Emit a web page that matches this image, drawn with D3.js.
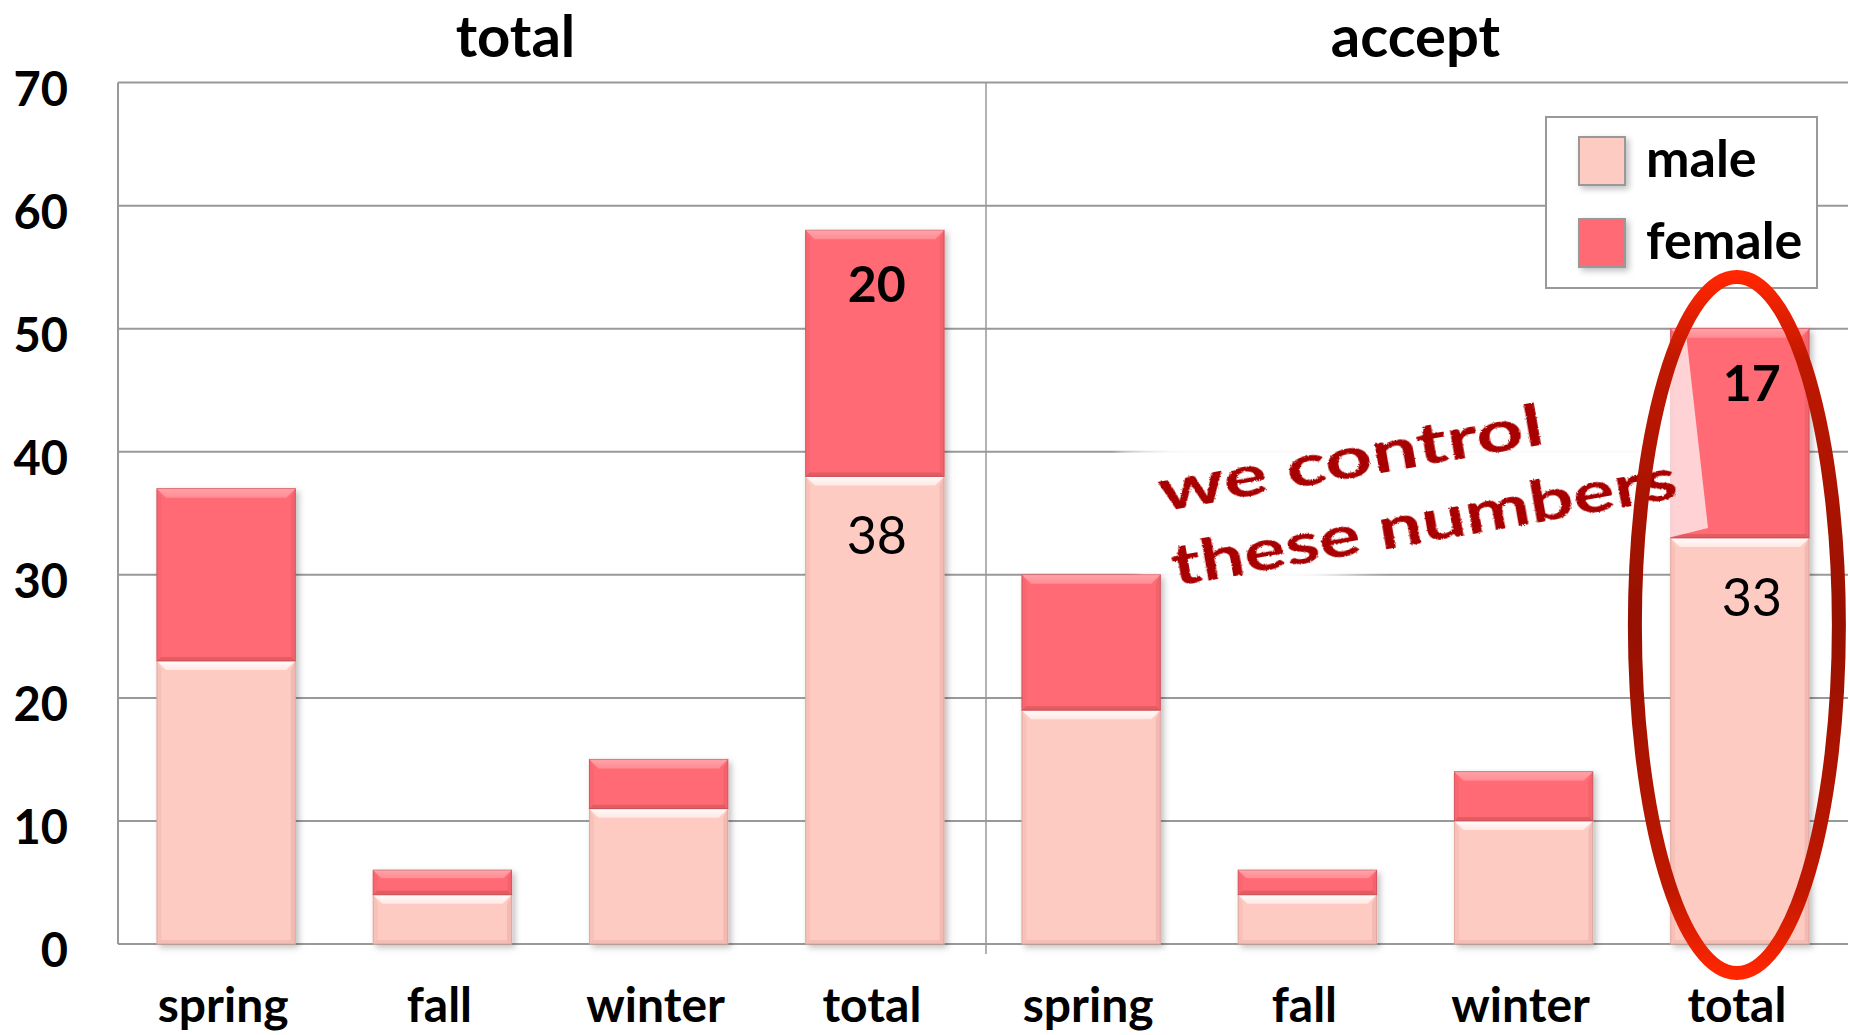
<!DOCTYPE html>
<html>
<head>
<meta charset="utf-8">
<script src="https://d3js.org/d3.v7.min.js"></script>
<style>
  body { margin: 0; background: #fff; }
  text { font-family: Lato, "Open Sans", sans-serif; }
</style>
</head>
<body>
<div id="vis-container"></div>
<script>
//width and height
var w = 1850;
var h = 1035;

// data
var panels = ["total", "accept"];
var seasons = ["spring", "fall", "winter", "total"];
var maleTotal = [23, 4, 11, 38];
var femaleTotal = [14, 2, 4, 20];
var maleAccept = [19, 4, 10, 33];
var femaleAccept = [11, 2, 4, 17];
var yTicks = [0, 10, 20, 30, 40, 50, 60, 70];
var legendLabels = ["male", "female"];
var noteLines = ["we control", "these numbers"];

var colors = { male: "#FECBC2", female: "#FF6B75" };

// build rows
var rows = [];
panels.forEach(function (p, pi) {
    var m = pi == 0 ? maleTotal : maleAccept;
    var f = pi == 0 ? femaleTotal : femaleAccept;
    seasons.forEach(function (s, i) {
        rows.push({ key: p + "-" + s, panel: p, season: s, male: m[i], female: f[i], showLabel: s == "total" });
    });
});

var left = 118, right = 1848;
var xScale = d3.scaleBand()
    .domain(rows.map(function (d) { return d.key; }))
    .range([left, right])
    .paddingInner(0.36)
    .paddingOuter(0.18);

var yScale = d3.scaleLinear()
    .domain([0, 70])
    .range([944, 82.6]);

var svg = d3.select("#vis-container")
    .append("svg")
    .attr("width", w)
    .attr("height", h);

var defs = svg.append("defs");

// bar shadow
var sh = defs.append("filter").attr("id", "shadow")
    .attr("x", "-10%").attr("y", "-10%").attr("width", "130%").attr("height", "130%");
sh.append("feDropShadow").attr("dx", 3).attr("dy", 3).attr("stdDeviation", 3)
    .attr("flood-color", "#000").attr("flood-opacity", 0.25);

var hl = defs.append("linearGradient").attr("id", "hl").attr("x1", 0).attr("y1", 0).attr("x2", 0).attr("y2", 1);
hl.append("stop").attr("offset", "0%").attr("stop-color", "#fff").attr("stop-opacity", 0.95);
hl.append("stop").attr("offset", "100%").attr("stop-color", "#fff").attr("stop-opacity", 0.55);

var ring = defs.append("linearGradient").attr("id", "ring").attr("x1", 0).attr("y1", 0).attr("x2", 0).attr("y2", 1);
ring.append("stop").attr("offset", "0%").attr("stop-color", "#FF2600");
ring.append("stop").attr("offset", "12%").attr("stop-color", "#C01800");
ring.append("stop").attr("offset", "50%").attr("stop-color", "#961000");
ring.append("stop").attr("offset", "88%").attr("stop-color", "#C01800");
ring.append("stop").attr("offset", "100%").attr("stop-color", "#FF2600");

var soft = defs.append("filter").attr("id", "soft");
soft.append("feGaussianBlur").attr("stdDeviation", 4);

var rough = defs.append("filter").attr("id", "rough");
rough.append("feTurbulence").attr("type", "fractalNoise").attr("baseFrequency", 0.9).attr("numOctaves", 2).attr("result", "n");
rough.append("feDisplacementMap").attr("in", "SourceGraphic").attr("in2", "n").attr("scale", 3);

// gridlines
svg.append("g").selectAll("line")
    .data(yTicks)
    .enter().append("line")
    .attr("x1", left).attr("x2", right)
    .attr("y1", function (d) { return yScale(d); })
    .attr("y2", function (d) { return yScale(d); })
    .attr("stroke", "#999").attr("stroke-width", 2);

// y axis line and panel divider
svg.append("line").attr("x1", left).attr("x2", left)
    .attr("y1", yScale(70)).attr("y2", yScale(0))
    .attr("stroke", "#999").attr("stroke-width", 2);
var divX = (xScale(rows[3].key) + xScale.bandwidth() + xScale(rows[4].key)) / 2 + 3;
svg.append("line").attr("x1", divX).attr("x2", divX)
    .attr("y1", yScale(70)).attr("y2", yScale(0) + 10)
    .attr("stroke", "#999").attr("stroke-width", 1.5);

// y tick labels
svg.append("g").selectAll("text")
    .data(yTicks)
    .enter().append("text")
    .attr("x", 68)
    .attr("y", function (d) { return yScale(d) + 23; })
    .attr("text-anchor", "end")
    .attr("font-size", 47).attr("font-weight", "bold")
    .text(function (d) { return d; });

// panel titles
var titleShift = [-35, 0];
panels.forEach(function (p, pi) {
    var k0 = rows[pi * 4].key, k3 = rows[pi * 4 + 3].key;
    var cx = (xScale(k0) + xScale(k3) + xScale.bandwidth()) / 2;
    svg.append("text")
        .attr("x", cx + titleShift[pi]).attr("y", 57)
        .attr("text-anchor", "middle")
        .attr("font-size", 58).attr("font-weight", "bold")
        .text(p);
});

// x labels
svg.append("g").selectAll("text")
    .data(rows)
    .enter().append("text")
    .attr("x", function (d) { return xScale(d.key) + xScale.bandwidth() / 2 - 3; })
    .attr("y", 1022)
    .attr("text-anchor", "middle")
    .attr("font-size", 48).attr("font-weight", "bold")
    .text(function (d) { return d.season; });

// note bubble body (behind bars)
var nx = 1400, ny = 490;
svg.append("rect")
    .attr("transform", "translate(" + nx + "," + ny + ") rotate(-10)")
    .attr("x", -272).attr("y", -85).attr("width", 572).attr("height", 160)
    .attr("fill", "#fff").attr("opacity", 0.95)
    .attr("filter", "url(#soft)");

// bevelled segment
function segment(g, x, y0, y1, bw, fill, kind) {
    var hgt = y0 - y1;
    var b = Math.min(9, hgt / 3);
    var bb = Math.min(4, hgt / 4);
    g.append("rect").attr("x", x).attr("y", y1).attr("width", bw).attr("height", hgt)
        .attr("fill", fill)
        .attr("stroke", kind == "male" ? "#E3ADA6" : "#D9545E").attr("stroke-width", 1);
    // top highlight
    g.append("polygon")
        .attr("points", [[x, y1], [x + bw, y1], [x + bw - b, y1 + b], [x + b, y1 + b]].join(" "))
        .attr("fill", "url(#hl)")
        .attr("opacity", kind == "male" ? 1 : 0.4);
    // bottom shade
    g.append("polygon")
        .attr("points", [[x, y0], [x + bw, y0], [x + bw - bb, y0 - bb], [x + bb, y0 - bb]].join(" "))
        .attr("fill", "#8A2A2A").attr("opacity", kind == "male" ? 0.08 : 0.25);
    // side shades
    g.append("polygon")
        .attr("points", [[x, y1], [x + b * 0.5, y1 + b], [x + b * 0.5, y0 - bb], [x, y0]].join(" "))
        .attr("fill", "#8A2A2A").attr("opacity", 0.06);
    g.append("polygon")
        .attr("points", [[x + bw, y1], [x + bw - b * 0.5, y1 + b], [x + bw - b * 0.5, y0 - bb], [x + bw, y0]].join(" "))
        .attr("fill", "#8A2A2A").attr("opacity", 0.1);
}

// draw bars
var bars = svg.append("g");
rows.forEach(function (d) {
    var g = bars.append("g").attr("filter", "url(#shadow)");
    var x = xScale(d.key), bw = xScale.bandwidth();
    segment(g, x, yScale(0), yScale(d.male), bw, colors.male, "male");
    segment(g, x, yScale(d.male), yScale(d.male + d.female), bw, colors.female, "female");
});

// value labels on the total bars
var lab = svg.append("g");
rows.filter(function (d) { return d.showLabel; }).forEach(function (d, i) {
    var cx = xScale(d.key) + xScale.bandwidth() / 2 + (i == 0 ? 2 : 12);
    lab.append("text")
        .attr("x", cx).attr("y", yScale(d.male + d.female) + 72)
        .attr("text-anchor", "middle")
        .attr("font-size", 50).attr("font-weight", "bold")
        .text(d.female);
    lab.append("text")
        .attr("x", cx).attr("y", yScale(d.male) + 78)
        .attr("text-anchor", "middle")
        .attr("font-size", 52)
        .text(d.male);
});

// note tail over the bar
svg.append("polygon")
    .attr("points", [[1684, 316], [1708, 528], [1636, 546]].join(" "))
    .attr("fill", "#fff").attr("opacity", 0.7);

// note text
var note = svg.append("g")
    .attr("transform", "translate(" + nx + "," + ny + ") rotate(-10)")
    .attr("filter", "url(#rough)");
note.selectAll("text")
    .data(noteLines)
    .enter().append("text")
    .attr("x", -238)
    .attr("y", function (d, i) { return -20 + i * 76; })
    .attr("font-family", "'DejaVu Sans', sans-serif")
    .attr("font-size", 58).attr("font-weight", "bold")
    .attr("fill", "#A80000")
    .attr("textLength", function (d, i) { return i == 0 ? 390 : 512; })
    .attr("lengthAdjust", "spacingAndGlyphs")
    .text(function (d) { return d; });

// legend
var legend = svg.append("g");
legend.append("rect")
    .attr("x", 1546).attr("y", 117).attr("width", 271).attr("height", 171)
    .attr("fill", "#fff").attr("stroke", "#999").attr("stroke-width", 2);
var li = legend.selectAll(".legend")
    .data(legendLabels)
    .enter().append("g")
    .attr("class", "legend")
    .attr("transform", function (d, i) { return "translate(0," + i * 82 + ")"; });
li.append("rect")
    .attr("x", 1579).attr("y", 137).attr("width", 46).attr("height", 48)
    .attr("fill", function (d) { return colors[d]; })
    .attr("stroke", "#999").attr("stroke-width", 2)
    .attr("filter", "url(#shadow)");
li.append("text")
    .attr("x", 1646).attr("y", 177)
    .attr("font-size", 52).attr("font-weight", "bold")
    .text(function (d) { return d; });

// red ring round the accept total
var last = rows[7];
svg.append("ellipse")
    .attr("cx", xScale(last.key) + xScale.bandwidth() / 2 - 3)
    .attr("cy", 625)
    .attr("rx", 102).attr("ry", 348)
    .attr("fill", "none")
    .attr("stroke", "url(#ring)").attr("stroke-width", 14);
</script>
</body>
</html>
